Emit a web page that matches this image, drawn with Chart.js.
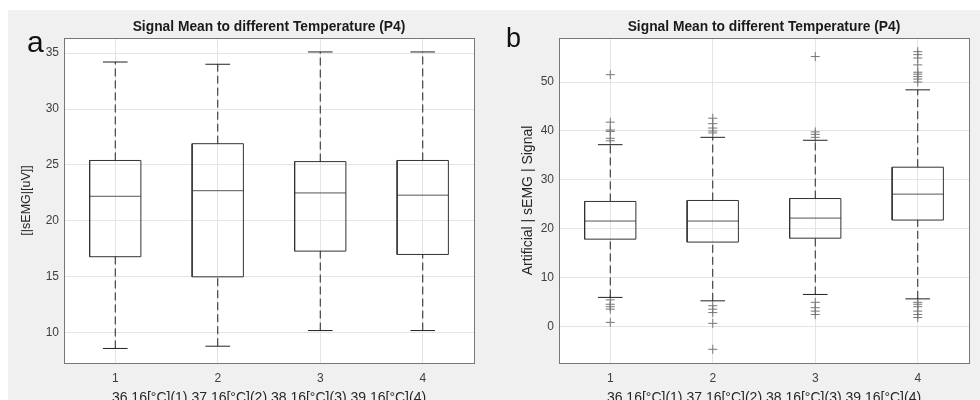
<!DOCTYPE html>
<html>
<head>
<meta charset="utf-8">
<script src="https://cdn.jsdelivr.net/npm/chart.js@4"></script>
<style>
  html, body { margin: 0; padding: 0; background: #fff; overflow: hidden; }
  body { width: 980px; height: 400px; position: relative; font-family: "Liberation Sans", Arial, sans-serif; }
  .panel { position: absolute; top: 10px; height: 400px; background: #f0f0f0; }
  #panelA { left: 8px; width: 482px; }
  #panelB { left: 490px; width: 490px; }
  .letter { position: absolute; line-height: 1; color: #111; }
</style>
</head>
<body>
<div class="panel" id="panelA"><canvas id="chartA"></canvas></div>
<div class="panel" id="panelB"><canvas id="chartB"></canvas></div>
<div class="letter" style="left:27px; top:27px; font-size:30px;">a</div>
<div class="letter" style="left:506px; top:25px; font-size:27px;">b</div>
<script>
const categories = ["1", "2", "3", "4"];
const chartTitle = "Signal Mean to different Temperature (P4)";
const xTitle = "36.16[°C](1) 37.16[°C](2) 38.16[°C](3) 39.16[°C](4)";

// panel a
const aLower = [8.6, 8.8, 10.2, 10.2];
const aQ1 = [16.8, 15.0, 17.3, 17.0];
const aMedian = [22.2, 22.7, 22.5, 22.3];
const aQ3 = [25.4, 26.9, 25.3, 25.4];
const aUpper = [34.2, 34.0, 35.1, 35.1];
const aOutliers = [[], [], [], []];
const aYTicks = [10, 15, 20, 25, 30, 35];

// panel b
const bLower = [6.0, 5.3, 6.6, 5.7];
const bQ1 = [17.9, 17.3, 18.1, 21.8];
const bMedian = [21.6, 21.6, 22.2, 27.1];
const bQ3 = [25.6, 25.8, 26.2, 32.6];
const bUpper = [37.2, 38.7, 38.1, 48.4];
const bOutliers = [
  [51.5, 41.8, 40.2, 39.9, 38.5, 38.0, 5.5, 4.6, 4.1, 3.6, 0.9],
  [42.6, 41.5, 40.6, 40.0, 39.6, 4.3, 3.6, 2.9, 0.7, -4.6],
  [55.2, 39.8, 39.3, 38.7, 5.0, 3.9, 3.2, 2.5],
  [56.2, 55.6, 54.9, 53.5, 52.0, 51.6, 51.1, 50.6, 50.0, 5.0, 4.6, 4.1, 3.2, 2.5, 1.9]
];
const bYTicks = [0, 10, 20, 30, 40, 50];

const BOX_HALF = 0.25;
const CAP_HALF = 0.12;

function gap(x) { return { x: x, y: null }; }

function boxDatasets(lower, q1, med, q3, upper, outliers) {
  const box = [], median = [], whisk = [], caps = [], outl = [];
  categories.forEach((c, i) => {
    const x = i + 1;
    box.push({ x: x - BOX_HALF, y: q1[i] }, { x: x + BOX_HALF, y: q1[i] },
             { x: x + BOX_HALF, y: q3[i] }, { x: x - BOX_HALF, y: q3[i] },
             { x: x - BOX_HALF, y: q1[i] }, gap(x));
    median.push({ x: x - BOX_HALF, y: med[i] }, { x: x + BOX_HALF, y: med[i] }, gap(x));
    whisk.push({ x: x, y: q3[i] }, { x: x, y: upper[i] }, gap(x),
               { x: x, y: lower[i] }, { x: x, y: q1[i] }, gap(x));
    caps.push({ x: x - CAP_HALF, y: upper[i] }, { x: x + CAP_HALF, y: upper[i] }, gap(x),
              { x: x - CAP_HALF, y: lower[i] }, { x: x + CAP_HALF, y: lower[i] }, gap(x));
    outliers[i].forEach(v => outl.push({ x: x, y: v }));
  });
  const line = { pointRadius: 0, borderWidth: 1, tension: 0, fill: false, spanGaps: false };
  return [
    Object.assign({ label: "whiskers", data: whisk, borderColor: "#222", borderDash: [8, 4] }, line),
    Object.assign({ label: "caps", data: caps, borderColor: "#222" }, line),
    Object.assign({ label: "box", data: box, borderColor: "#333" }, line),
    Object.assign({ label: "median", data: median, borderColor: "#555" }, line),
    { label: "outliers", data: outl, showLine: false, pointStyle: "cross", pointRadius: 4.5,
      pointBorderWidth: 1, pointBorderColor: "#777", pointBackgroundColor: "#777", borderColor: "#777" }
  ];
}

const frame = {
  id: "frame",
  beforeDraw(chart) {
    const { ctx, chartArea: a } = chart;
    ctx.save();
    ctx.fillStyle = "#fff";
    ctx.fillRect(a.left, a.top, a.right - a.left, a.bottom - a.top);
    ctx.restore();
  },
  afterDraw(chart) {
    const { ctx, chartArea: a } = chart;
    ctx.save();
    ctx.strokeStyle = "#777";
    ctx.lineWidth = 1;
    ctx.strokeRect(Math.round(a.left) + 0.5, Math.round(a.top) + 0.5,
                   Math.round(a.right - a.left), Math.round(a.bottom - a.top));
    ctx.restore();
  }
};

function makeChart(id, datasets, yMin, yMax, yTicks, yTitle, yTitleSize, yTitlePad, yWidth, padRight) {
  return new Chart(document.getElementById(id), {
    type: "line",
    data: { datasets },
    plugins: [frame],
    options: {
      responsive: true,
      maintainAspectRatio: false,
      animation: false,
      layout: { padding: { left: 0, right: padRight, top: 0, bottom: 0 } },
      plugins: {
        legend: { display: false },
        tooltip: { enabled: false },
        title: {
          display: true,
          text: chartTitle,
          fullSize: false,
          color: "#1a1a1a",
          font: { family: "Liberation Sans", size: 13.8, weight: "bold" },
          padding: { top: 8.5, bottom: 2.9 }
        }
      },
      scales: {
        x: {
          type: "linear",
          min: 0.5,
          max: 4.5,
          afterBuildTicks: s => { s.ticks = categories.map((c, i) => ({ value: i + 1 })); },
          afterFit: s => { s.height = 47; },
          ticks: {
            padding: 8,
            color: "#404040",
            font: { family: "Liberation Sans", size: 12 },
            callback: v => categories[v - 1]
          },
          grid: { color: "#e4e4e4", drawTicks: false },
          border: { display: false },
          title: {
            display: true,
            text: xTitle,
            color: "#262626",
            font: { family: "Liberation Sans", size: 14 },
            padding: { top: 0, bottom: 3.5 }
          }
        },
        y: {
          min: yMin,
          max: yMax,
          afterBuildTicks: s => { s.ticks = yTicks.map(v => ({ value: v })); },
          afterFit: s => { s.width = yWidth; },
          ticks: {
            padding: 5,
            color: "#404040",
            font: { family: "Liberation Sans", size: 12 }
          },
          grid: { color: "#e4e4e4", drawTicks: false },
          border: { display: false },
          title: {
            display: true,
            text: yTitle,
            color: "#262626",
            font: { family: "Liberation Sans", size: yTitleSize },
            padding: { top: yTitlePad, bottom: 0 }
          }
        }
      }
    }
  });
}

makeChart("chartA", boxDatasets(aLower, aQ1, aMedian, aQ3, aUpper, aOutliers),
  7.3, 36.35, aYTicks, "[|sEMG|[uV]]", 12.5, 11.5, 56, 16);
makeChart("chartB", boxDatasets(bLower, bQ1, bMedian, bQ3, bUpper, bOutliers),
  -7.4, 59, bYTicks, "Artificial | sEMG | Signal", 14, 29.6, 69, 11);
</script>
</body>
</html>
